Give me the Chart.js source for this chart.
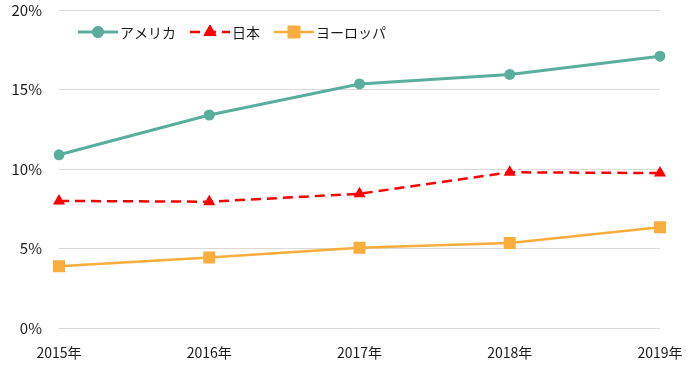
<!DOCTYPE html>
<html>
<head>
<meta charset="utf-8">
<script src="https://cdn.jsdelivr.net/npm/chart.js@4"></script>
<style>
  html, body { margin: 0; padding: 0; background: #ffffff; }
  #wrap { width: 700px; height: 377px; }
</style>
</head>
<body>
<div id="wrap"><canvas id="c" width="700" height="377"></canvas></div>
<script>
// データ
const years = ['2015年', '2016年', '2017年', '2018年', '2019年'];
const america = [10.9, 13.4, 15.35, 15.95, 17.1];
const japan = [8.0, 7.95, 8.45, 9.8, 9.75];
const europe = [3.9, 4.45, 5.05, 5.35, 6.35];
const yTicks = [0, 5, 10, 15, 20];

const FONT = '"Noto Sans CJK JP", "Noto Sans", sans-serif';
Chart.defaults.font.family = FONT;
Chart.defaults.font.size = 14;
Chart.defaults.color = '#1a1a1a';

// 凡例: 線＋マーカーを Excel 風に描く
const lineLegend = {
  id: 'lineLegend',
  afterDraw(chart) {
    const ctx = chart.ctx;
    let x = 78;
    const y = 32;
    ctx.save();
    ctx.font = '14px ' + FONT;
    ctx.textBaseline = 'middle';
    chart.data.datasets.forEach(ds => {
      ctx.strokeStyle = ds.borderColor;
      ctx.lineWidth = ds.borderWidth;
      ctx.setLineDash(ds.borderDash || []);
      ctx.beginPath();
      ctx.moveTo(x, y);
      ctx.lineTo(x + 40, y);
      ctx.stroke();
      ctx.setLineDash([]);
      ctx.lineWidth = 1;
      Chart.helpers.drawPoint(ctx, {
        pointStyle: ds.pointStyle,
        radius: ds.pointRadius,
        rotation: 0,
        borderWidth: 1
      }, x + 20, y);
      ctx.fillStyle = ds.pointBackgroundColor;
      ctx.fill();
      ctx.fillStyle = '#1a1a1a';
      ctx.fillText(ds.label, x + 42, y + 1);
      x += 42 + ctx.measureText(ds.label).width + 14;
    });
    ctx.restore();
  }
};

new Chart(document.getElementById('c').getContext('2d'), {
  type: 'line',
  data: {
    labels: years,
    datasets: [
      {
        label: 'アメリカ',
        data: america,
        borderColor: '#5aae9e',
        backgroundColor: '#5aae9e',
        pointBackgroundColor: '#5aae9e',
        pointBorderColor: '#5aae9e',
        borderWidth: 3,
        pointStyle: 'circle',
        pointRadius: 5.5,
        pointBorderWidth: 0,
        tension: 0
      },
      {
        label: '日本',
        data: japan,
        borderColor: '#ff0000',
        backgroundColor: '#ff0000',
        pointBackgroundColor: '#ff0000',
        pointBorderColor: '#ff0000',
        borderWidth: 2.5,
        borderDash: [10, 6],
        pointStyle: 'triangle',
        pointRadius: 7,
        pointBorderWidth: 0,
        tension: 0
      },
      {
        label: 'ヨーロッパ',
        data: europe,
        borderColor: '#f9ad3c',
        backgroundColor: '#f9ad3c',
        pointBackgroundColor: '#f9ad3c',
        pointBorderColor: '#f9ad3c',
        borderWidth: 2.5,
        pointStyle: 'rect',
        pointRadius: 8.5,
        pointBorderWidth: 0,
        tension: 0
      }
    ]
  },
  options: {
    responsive: false,
    animation: false,
    layout: { padding: { top: 10, right: 40, bottom: 8, left: 0 } },
    plugins: {
      legend: { display: false },
      tooltip: { enabled: false }
    },
    scales: {
      x: {
        offset: false,
        grid: { display: false },
        border: { display: false },
        ticks: { padding: 8, maxRotation: 0 }
      },
      y: {
        min: 0,
        max: 20,
        afterFit(scale) {
          scale.width = 59;
          scale.paddingTop = 0;
          scale.paddingBottom = 0;
        },
        afterBuildTicks(scale) { scale.ticks = yTicks.map(v => ({ value: v })); },
        grid: { color: '#d9d9d9', lineWidth: 1, drawTicks: false },
        border: { display: false },
        ticks: { padding: 17, font: { size: 15, lineHeight: 1 }, callback: v => v + '%' }
      }
    }
  },
  plugins: [lineLegend]
});
</script>
</body>
</html>
